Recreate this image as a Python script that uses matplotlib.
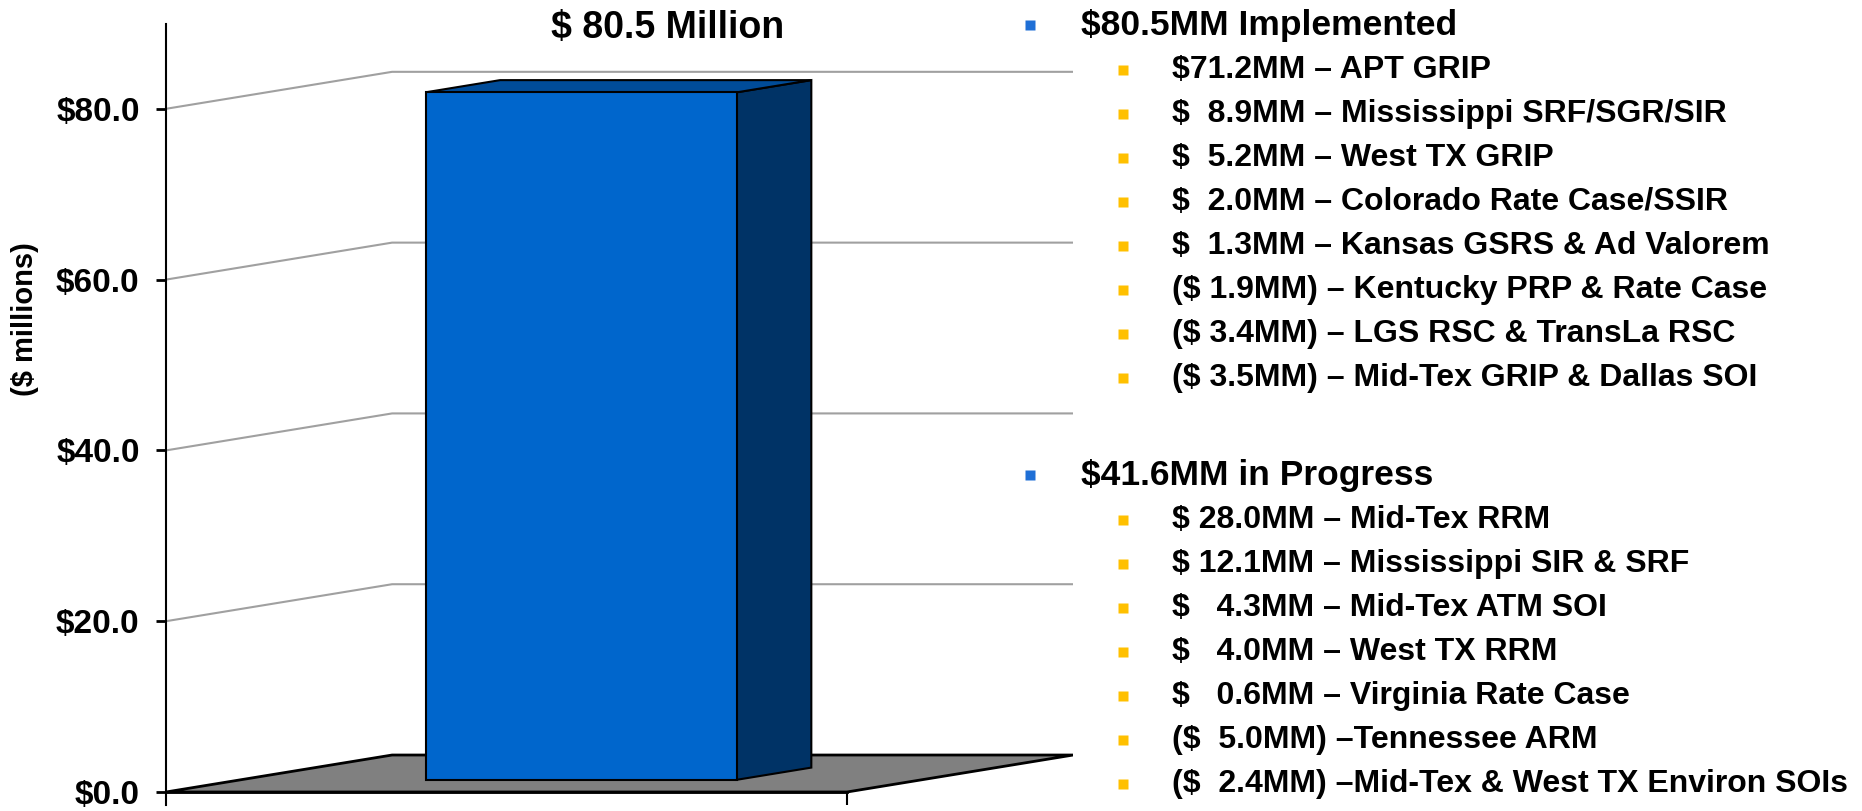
# rate activity bar with the breakdown of implemented / in-progress items

import matplotlib
matplotlib.use('Agg')
import matplotlib.pyplot as plt
from matplotlib.patches import Polygon
from matplotlib.lines import Line2D

total = 80.5
title = '$ 80.5 Million'
yticks = [0, 20, 40, 60, 80]
ytick_labels = ['$0.0', '$20.0', '$40.0', '$60.0', '$80.0']

impl_header = '$80.5MM Implemented'
impl_items = ['$71.2MM – APT GRIP',
              '$  8.9MM – Mississippi SRF/SGR/SIR',
              '$  5.2MM – West TX GRIP',
              '$  2.0MM – Colorado Rate Case/SSIR',
              '$  1.3MM – Kansas GSRS & Ad Valorem',
              '($ 1.9MM) – Kentucky PRP & Rate Case',
              '($ 3.4MM) – LGS RSC & TransLa RSC',
              '($ 3.5MM) – Mid-Tex GRIP & Dallas SOI']
prog_header = '$41.6MM in Progress'
prog_items = ['$ 28.0MM – Mid-Tex RRM',
              '$ 12.1MM – Mississippi SIR & SRF',
              '$   4.3MM – Mid-Tex ATM SOI',
              '$   4.0MM – West TX RRM',
              '$   0.6MM – Virginia Rate Case',
              '($  5.0MM) –Tennessee ARM',
              '($  2.4MM) –Mid-Tex & West TX Environ SOIs']

W, H = 1862, 811
fig = plt.figure(figsize=(W / 100, H / 100), dpi=100)

# pseudo-3d layout: depth offset of the back wall
ddx, ddy = 0.332, 4.33
ppu = 8.54          # pixels per $1MM
zero_px = 792
left_px, cat_px = 166, 681
top_px, bot_px = 24, 805
right_px = left_px + cat_px * (1 + ddx)

ax = fig.add_axes([left_px / W, (H - bot_px) / H,
                   (right_px - left_px) / W, (bot_px - top_px) / H])
ax.set_xlim(0, 1 + ddx)
ax.set_ylim(-(bot_px - zero_px) / ppu, (zero_px - top_px) / ppu)
ax.patch.set_visible(False)

narrow = ['Liberation Sans Narrow', 'Liberation Sans', 'DejaVu Sans']
bold = ['Liberation Sans', 'DejaVu Sans']

for s in ['top', 'right']:
    ax.spines[s].set_visible(False)
ax.spines['left'].set_linewidth(1.5)
ax.spines['bottom'].set_position(('data', 0))
ax.spines['bottom'].set_bounds(0, 1)
ax.spines['bottom'].set_linewidth(2)
ax.set_yticks(yticks)
ax.set_yticklabels(ytick_labels, fontfamily=narrow, fontweight='bold', fontsize=24)
ax.tick_params(axis='y', length=7, width=2, pad=12, direction='out')
ax.set_xticks([1])
ax.set_xticklabels([''])
ax.tick_params(axis='x', length=9.5, width=1.5, direction='out')

# gridlines bending onto the back wall
for v in yticks[1:]:
    ax.plot([0, ddx, 1 + ddx], [v, v + ddy, v + ddy], color='#a0a0a0', lw=1.5, zorder=1)

# floor
ax.add_patch(Polygon([(0, 0), (1, 0), (1 + ddx, ddy), (ddx, ddy)], closed=True,
                     facecolor='#808080', edgecolor='black', lw=2, zorder=2))

# the bar: front, side, top faces
f0, f1 = 0.33, 0.66
bw = 0.457
x0, x1 = 0.5 - bw / 2, 0.5 + bw / 2
fx0, fx1 = x0 + f0 * ddx, x1 + f0 * ddx
fy0, fy1 = f0 * ddy, total + f0 * ddy
bx1 = x1 + f1 * ddx
by0, by1 = f1 * ddy, total + f1 * ddy
ax.add_patch(Polygon([(fx1, fy0), (bx1, by0), (bx1, by1), (fx1, fy1)], closed=True,
                     facecolor='#003366', edgecolor='black', lw=1.5, zorder=3))
ax.add_patch(Polygon([(fx0, fy1), (fx1, fy1), (bx1, by1), (x0 + f1 * ddx, by1)], closed=True,
                     facecolor='#004c99', edgecolor='black', lw=1.5, zorder=3))
ax.add_patch(Polygon([(fx0, fy0), (fx1, fy0), (fx1, fy1), (fx0, fy1)], closed=True,
                     facecolor='#0066cc', edgecolor='black', lw=1.5, zorder=4))

fig.text(668 / W, 1 - 28 / H, title, ha='center', va='center',
         fontfamily=bold, fontweight='bold', fontsize=27)
fig.text(25 / W, 1 - 319 / H, '($ millions)', rotation=90, ha='center', va='center',
         fontfamily=bold, fontweight='bold', fontsize=21)


def bullet(xp, yp, color, size):
    fig.add_artist(Line2D([xp / W], [1 - yp / H], marker='s', ms=size, color=color,
                          mec='none', transform=fig.transFigure))


def block(header, items, y_head, y_first):
    bullet(1030, y_head, '#1f6fd6', 7.5)
    fig.text(1081 / W, 1 - y_head / H, header, ha='left', va='center',
             fontfamily=bold, fontweight='bold', fontsize=25.5)
    for i, t in enumerate(items):
        y = y_first + i * 44
        bullet(1123, y, '#ffc000', 7.5)
        fig.text(1172 / W, 1 - y / H, t, ha='left', va='center',
                 fontfamily=bold, fontweight='bold', fontsize=23)


block(impl_header, impl_items, 25, 70)
block(prog_header, prog_items, 475, 520)

fig.savefig('out.png', dpi=100)
